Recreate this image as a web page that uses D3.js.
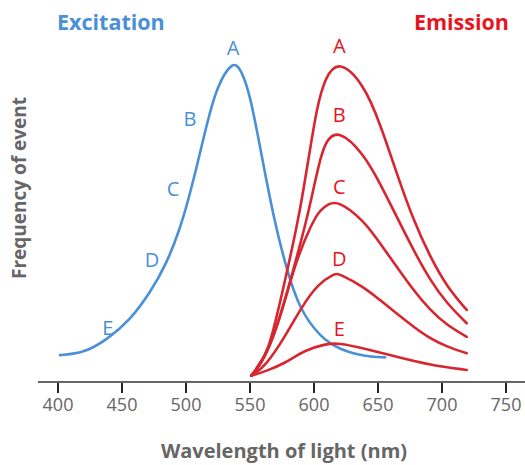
<!DOCTYPE html>
<html lang="en">
<head>
<meta charset="utf-8">
<style>
  body { margin: 0; background: #fff; }
  svg { display: block; font-family: "Open Sans", sans-serif; }
  .curve { fill: none; stroke-width: 2.6px; stroke-linecap: round; }
  .tick-label { fill: #666; font-size: 18px; }
  .axis-title { fill: #666; font-weight: bold; }
</style>
<script src="https://d3js.org/d3.v7.min.js"></script>
</head>
<body>
<script>
var width = 525, height = 465;

// wavelength (nm) ticks
var ticks = [400, 450, 500, 550, 600, 650, 700, 750];
var letters = ["A", "B", "C", "D", "E"];

// excitation spectrum: [wavelength, relative frequency]
var excitation = [
  [401.6, 8.5], [419.8, 9.1], [438, 13.3], [456.3, 19.6], [471.9, 28.2],
  [484.9, 37.5], [495.3, 48.5], [501.8, 57.6], [508.4, 68.1], [516.2, 81.5],
  [524, 93.5], [536.5, 101.8], [543, 99], [550, 91], [557.8, 74.5],
  [568.2, 52.3], [578.7, 35.4], [589, 22.8], [604.7, 14.3], [620.3, 10.1],
  [641.2, 8.0], [655.5, 7.8]
];
// letter positions beside the excitation curve
var excitationMarks = [[536.7, 103.5], [503, 81], [489.8, 58.9], [473.4, 36.4], [439, 14.9]];

// emission spectra A..E
var emissionA = [
  [551, 2], [559.4, 6.3], [565.6, 11.7], [575.8, 29.1], [587.7, 51.3],
  [591.6, 60.5], [596.9, 73.5], [602.1, 86.5], [608.6, 96.5], [619.5, 102],
  [638.5, 94.5], [651.6, 81.9], [664.6, 66], [677.6, 51.3], [690.6, 39.7],
  [703.7, 30.2], [719.3, 22.8]
];
var emissionB = [
  [551, 2], [565.6, 10.1], [579.7, 29.1], [594.3, 51.3], [598.2, 58.6],
  [603.4, 68.1], [608.6, 76.2], [619.1, 80], [638.5, 72.4], [651.6, 62.9],
  [664.6, 52.3], [677.6, 41.8], [690.6, 32.3], [703.7, 24.9], [719.3, 18.6]
];
var emissionC = [
  [551, 2], [561.7, 7.0], [574.8, 21.7], [585.2, 37.6], [598.2, 50.2],
  [604.7, 54.4], [611.2, 56.4], [619.1, 57.3], [638.5, 51.3], [651.6, 43.9],
  [664.6, 36.5], [677.6, 29.1], [690.6, 22.8], [703.7, 18.0], [719.3, 14.3]
];
var emissionD = [
  [551, 2], [561.7, 4.8], [577.3, 14.3], [590.4, 23.8], [603.4, 31.2],
  [616.4, 34.3], [619.1, 34.4], [638.5, 30.2], [651.6, 25.9], [664.6, 21.7],
  [677.6, 17.5], [690.6, 13.8], [703.7, 11.2], [719.3, 9.1]
];
var emissionE = [
  [551, 2], [561.7, 3.3], [577.3, 5.9], [592.9, 10.1], [608.6, 12.0],
  [619.1, 12.4], [638.5, 10.7], [664.6, 8.0], [690.6, 5.4], [719.3, 3.8]
];
var emission = [emissionA, emissionB, emissionC, emissionD, emissionE];
var emissionPeak = 619;

var blue = "#4a90d6", red = "#d7262f", redText = "#e8141e";

var svg = d3.select("body").append("svg")
  .attr("width", width)
  .attr("height", height);

var x = d3.scaleLinear().domain([400, 750]).range([58, 506]);
var y = d3.scaleLinear().domain([0, 100]).range([382, 66]);

var line = d3.line()
  .x(function(d) { return x(d[0]); })
  .y(function(d) { return y(d[1]); })
  .curve(d3.curveBasis);

// curves
svg.append("path")
  .datum(excitation)
  .attr("class", "curve")
  .attr("stroke", blue)
  .attr("d", line);

svg.selectAll(".em")
  .data(emission)
  .enter().append("path")
  .attr("class", "curve em")
  .attr("stroke", red)
  .attr("d", line);

// x axis
var axis = svg.append("g").attr("transform", "translate(0,382)");
axis.append("line")
  .attr("x1", 38).attr("x2", width)
  .attr("stroke", "#666").attr("stroke-width", 2);
var t = axis.selectAll(".t").data(ticks).enter().append("g")
  .attr("transform", function(d) { return "translate(" + x(d) + ",0)"; });
t.append("line").attr("y1", 1).attr("y2", 11)
  .attr("stroke", "#222").attr("stroke-width", 2);
t.append("text").attr("class", "tick-label")
  .attr("y", 29).attr("text-anchor", "middle")
  .text(function(d) { return d; });

svg.append("text").attr("class", "axis-title")
  .attr("x", 284).attr("y", 458).attr("text-anchor", "middle")
  .attr("font-size", 20)
  .text("Wavelength of light (nm)");
svg.append("text").attr("class", "axis-title")
  .attr("transform", "translate(26,188) rotate(-90)")
  .attr("text-anchor", "middle")
  .attr("font-size", 19)
  .text("Frequency of event");

// titles
svg.append("text").attr("x", 57).attr("y", 30)
  .attr("fill", blue).attr("font-size", 21.5).attr("font-weight", "bold")
  .text("Excitation");
svg.append("text").attr("x", 509).attr("y", 30).attr("text-anchor", "end")
  .attr("fill", redText).attr("font-size", 21.5).attr("font-weight", "bold")
  .text("Emission");

// letters
svg.selectAll(".exl").data(excitationMarks).enter().append("text")
  .attr("x", function(d) { return x(d[0]); })
  .attr("y", function(d) { return y(d[1]); })
  .attr("text-anchor", "middle")
  .attr("fill", blue).attr("font-size", 20)
  .text(function(d, i) { return letters[i]; });

svg.selectAll(".eml").data(emission).enter().append("text")
  .attr("x", x(emissionPeak) + 1)
  .attr("y", function(d) { return y(d3.max(d, function(p) { return p[1]; })) - 7; })
  .attr("text-anchor", "middle")
  .attr("fill", redText).attr("font-size", 20)
  .text(function(d, i) { return letters[i]; });
</script>
</body>
</html>
